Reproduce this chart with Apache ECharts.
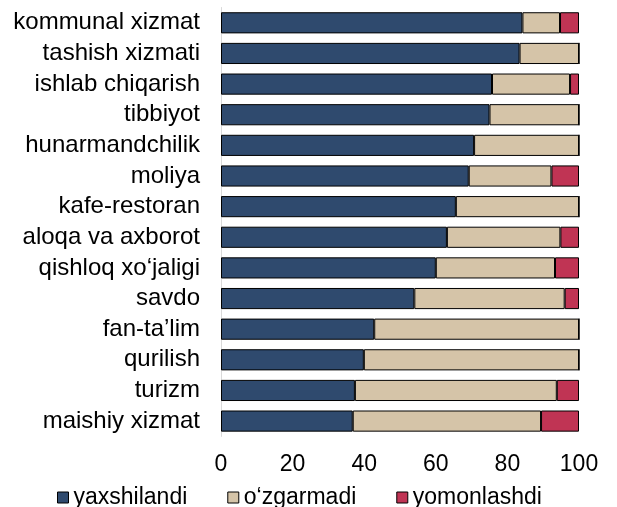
<!DOCTYPE html>
<html>
<head>
<meta charset="utf-8">
<script src="https://cdn.jsdelivr.net/npm/echarts@6/dist/echarts.min.js"></script>
<style>html,body{margin:0;padding:0;background:#fff;}#c{width:617px;height:507px;}</style>
</head>
<body>
<div id="c"></div>
<script>
var categories = ["kommunal xizmat","tashish xizmati","ishlab chiqarish","tibbiyot","hunarmandchilik","moliya","kafe-restoran","aloqa va axborot","qishloq xo\u2018jaligi","savdo","fan-ta\u2019lim","qurilish","turizm","maishiy xizmat"];
var yaxshilandi = [84.2, 83.4, 75.7, 75.0, 70.7, 69.2, 65.6, 63.1, 60.0, 54.0, 42.8, 39.9, 37.4, 36.8];
var ozgarmadi  = [10.5, 16.6, 21.8, 25.0, 29.3, 23.1, 34.4, 31.7, 33.3, 42.0, 57.2, 60.1, 56.4, 52.6];
var yomonlashdi = [5.3, 0, 2.5, 0, 0, 7.7, 0, 5.2, 6.7, 4.0, 0, 0, 6.2, 10.6];
var seriesNames = ["yaxshilandi", "o\u2018zgarmadi", "yomonlashdi"];
var xTicks = [0, 20, 40, 60, 80, 100];

var colors = ["#2F4A6E", "#D5C4A8", "#C03454"];
var font = "'Liberation Sans', Arial, sans-serif";
var chart = echarts.init(document.getElementById('c'), null, {renderer: 'canvas'});
function mk(name, data, color) {
  return {
    name: name, type: 'bar', stack: 'total', data: data,
    barCategoryGap: '31%',
    itemStyle: {color: color, borderColor: '#000', borderWidth: 1},
    emphasis: {disabled: true}
  };
}
chart.setOption({
  animation: false,
  textStyle: {fontFamily: font},
  grid: {left: 221, right: 38, top: 7.5, bottom: 70.6, containLabel: false},
  legend: {
    left: 52, top: 481, itemWidth: 11, itemHeight: 11, itemGap: 40,
    icon: 'rect',
    textStyle: {fontSize: 23, color: '#000', fontFamily: font},
    itemStyle: {borderColor: '#000', borderWidth: 1},
    data: seriesNames
  },
  xAxis: {
    type: 'value', min: 0, max: 100, interval: 20,
    axisLine: {show: false}, axisTick: {show: false}, splitLine: {show: false},
    axisLabel: {fontSize: 23, color: '#000', margin: 17, fontFamily: font,
      formatter: function (v) { return xTicks.indexOf(v) >= 0 ? String(v) : ''; }}
  },
  yAxis: {
    type: 'category', data: categories, inverse: true,
    axisLine: {show: true, lineStyle: {color: '#D9D9D9', width: 1}},
    axisTick: {show: false},
    axisLabel: {fontSize: 24, color: '#000', margin: 21, fontFamily: font, interval: 0}
  },
  series: [
    mk(seriesNames[0], yaxshilandi, colors[0]),
    mk(seriesNames[1], ozgarmadi, colors[1]),
    mk(seriesNames[2], yomonlashdi, colors[2])
  ]
});
</script>
</body>
</html>
